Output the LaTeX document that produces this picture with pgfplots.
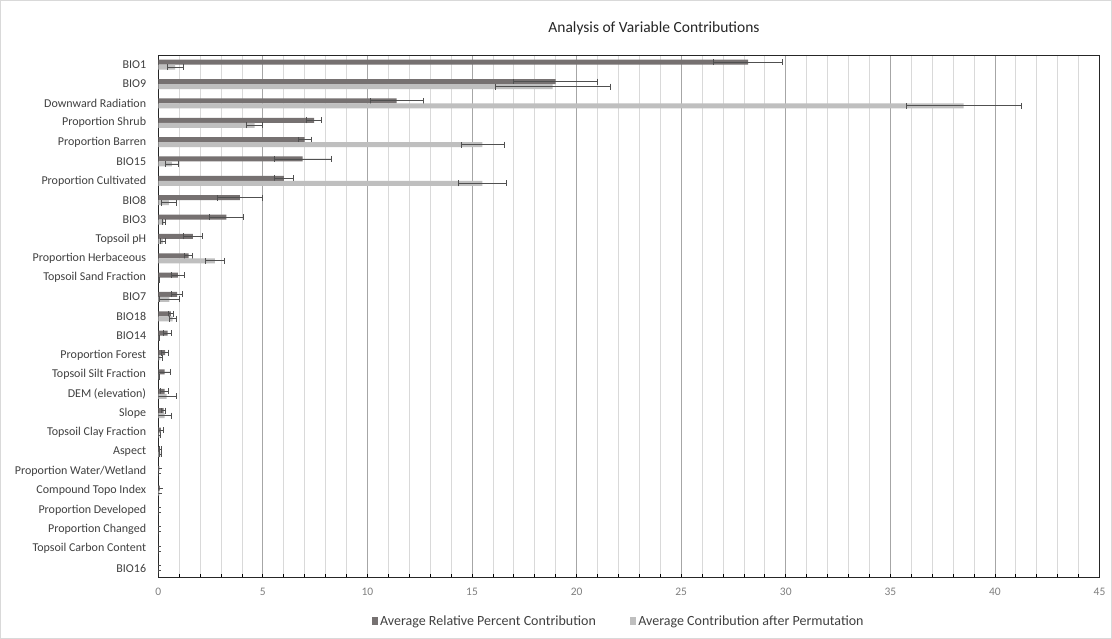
\documentclass[border=0pt]{standalone}
\usepackage{fontspec}
\setmainfont{Carlito}
\usepackage{pgfplots}
\usepackage{pgfplotstable}
\pgfplotsset{compat=1.18}

\definecolor{darkbar}{RGB}{118,113,113}
\definecolor{lightbar}{RGB}{191,191,191}
\definecolor{errline}{RGB}{80,80,80}
\definecolor{majgrid}{RGB}{166,166,166}
\definecolor{mingrid}{RGB}{217,217,217}
\definecolor{ticktext}{RGB}{128,128,128}
\definecolor{labeltext}{RGB}{64,64,64}

% idx, variable, relative contribution (+/- sd), permutation importance (+/- sd)
\pgfplotstableread[col sep=comma]{
idx,name,rel,relerr,perm,permerr
0,BIO1,28.2,1.65,0.8,0.38
1,BIO9,19.0,2.0,18.85,2.75
2,Downward Radiation,11.4,1.26,38.5,2.75
3,Proportion Shrub,7.45,0.35,4.6,0.4
4,Proportion Barren,7.0,0.31,15.5,1.03
5,BIO15,6.9,1.37,0.65,0.3
6,Proportion Cultivated,6.0,0.47,15.5,1.15
7,BIO8,3.9,1.07,0.5,0.35
8,BIO3,3.25,0.8,0.25,0.07
9,Topsoil pH,1.65,0.45,0.22,0.1
10,Proportion Herbaceous,1.45,0.18,2.7,0.45
11,Topsoil Sand Fraction,0.93,0.32,0.02,0.02
12,BIO7,0.9,0.25,0.53,0.48
13,BIO18,0.6,0.13,0.68,0.17
14,BIO14,0.45,0.2,0.03,0.02
15,Proportion Forest,0.33,0.17,0.1,0.1
16,Topsoil Silt Fraction,0.3,0.3,0.03,0.02
17,DEM (elevation),0.3,0.2,0.4,0.45
18,Slope,0.25,0.08,0.3,0.35
19,Topsoil Clay Fraction,0.12,0.12,0.05,0.05
20,Aspect,0.08,0.05,0.1,0.06
21,Proportion Water/Wetland,0.05,0,0,0
22,Compound Topo Index,0.07,0,0.05,0
23,Proportion Developed,0,0,0,0
24,Proportion Changed,0,0,0,0
25,Topsoil Carbon Content,0,0,0,0
26,BIO16,0,0,0,0
}\contrib

\begin{document}
\begin{tikzpicture}[x=1pt,y=1pt]
% chart area
\fill[white] (0,0) rectangle (1112,639);
\draw[mingrid, line width=0.8pt] (0.5,0.5) rectangle (1111.5,638.5);
\node[font=\fontsize{15.5}{18}\selectfont, text=black!85] at (654,611) {Analysis of Variable Contributions};

\begin{axis}[
  at={(158.3pt,61.3pt)}, anchor=south west,
  scale only axis, width=941.2pt, height=522.7pt,
  xmin=0, xmax=45, ymin=-0.5, ymax=26.5,
  y dir=reverse,
  xbar, bar width=5pt,
  xtick={0,5,...,45}, minor x tick num=4,
  xmajorgrids, xminorgrids,
  major grid style={majgrid, line width=0.8pt},
  minor grid style={mingrid, line width=0.8pt},
  ytick={0,...,26},
  yticklabels from table={\contrib}{name},
  ytick style={draw=none},
  tick align=inside,
  major tick length=4pt, minor tick length=4pt,
  x tick style={black, line width=0.8pt},
  xtick pos=bottom,
  axis line style={black!85, line width=1pt},
  yticklabel style={font=\fontsize{12}{14}\selectfont, text=labeltext, inner sep=0pt, xshift=-12pt},
  xticklabel style={font=\fontsize{11.5}{13}\selectfont, text=ticktext, inner sep=0pt, yshift=-10pt},
  /pgf/number format/assume math mode=true,
  legend style={at={(0.489,-0.064)}, anchor=north, draw=none, fill=none,
    legend columns=2, font=\fontsize{14}{16}\selectfont, text=labeltext,
    /tikz/every even column/.append style={column sep=32pt}},
  legend image code/.code={\fill[#1] (0pt,-4pt) rectangle (6.5pt,4pt);},
  error bars/error bar style={errline, line width=0.8pt},
  error bars/error mark options={errline, line width=0.8pt, mark size=3pt, rotate=90},
]
\addplot[fill=darkbar, draw=none, bar shift=2.5pt,
  error bars/.cd, x dir=both, x explicit]
  table[x=rel, y=idx, x error=relerr] {\contrib};
\addlegendentry{Average Relative Percent Contribution}
\addplot[fill=lightbar, draw=none, bar shift=-2.5pt,
  error bars/.cd, x dir=both, x explicit]
  table[x=perm, y=idx, x error=permerr] {\contrib};
\addlegendentry{Average Contribution after Permutation}
\end{axis}
\end{tikzpicture}
\end{document}
